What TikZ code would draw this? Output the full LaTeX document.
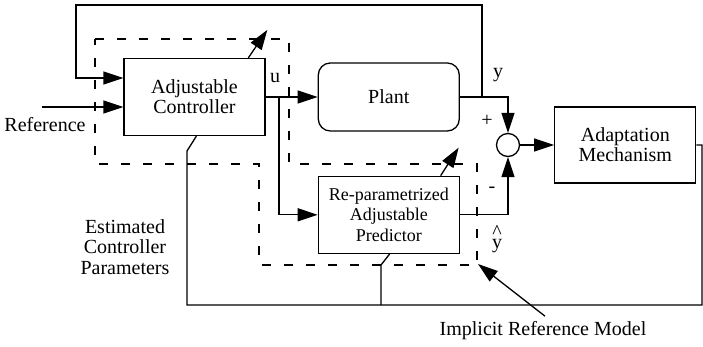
\documentclass[tikz,border=0pt]{standalone}
\usepackage{fontspec}
\setmainfont{Liberation Serif}
\usetikzlibrary{arrows.meta,positioning}

\begin{document}
\begin{tikzpicture}[x=1pt,y=-1pt,->,>={Triangle[length=20pt,width=13pt]},line width=1.3pt,
        font=\fontsize{20}{20}\selectfont,
        block/.style={draw,-,minimum width=141pt,minimum height=77pt,inner sep=0pt,align=center},
        plantbox/.style={block,minimum height=68pt,rounded corners=12pt},
        sumnode/.style={draw,-,circle,minimum size=23pt,inner sep=0pt},
        irmline/.style={-,dash pattern=on 9pt off 13pt},
        lbl/.style={inner sep=0pt,align=center}]
        \useasboundingbox (0,0) rectangle (703,347);

        \node[block] (ctrl) at (194.5,97) {Adjustable\\Controller};
        \node[plantbox] (plant) [right=52pt of ctrl] {Plant};
        \node[block,font=\fontsize{18}{20.5}\selectfont] (pred) [below=44pt of plant]
                {Re-parametrized\\Adjustable\\Predictor};
        \node[sumnode] (sum) at (508,145) {};
        \node[block,minimum height=76pt] (adapt) [right=34pt of sum] {Adaptation\\Mechanism};

        \coordinate (refin) at (42,107);
        \coordinate (utap) at (279,97);
        \coordinate (ytap) at (482,97);
        \coordinate (pbr) at (381,305);
        \coordinate (irmtip) at (478,264);

        % implicit reference model
        \draw[irmline] (95,39) -- (289,39) -- (289,164) -- (477,164) -- (477,265)
                -- (259,265) -- (259,164) -- (95,164) -- cycle;

        \path (refin) edge ([yshift=-10pt]ctrl.west)
              (ctrl) edge (plant)
              (sum) edge (adapt);
        \draw (utap) |- (pred.west);
        \draw (plant.east) -| (sum.north);
        \draw (pred.east) -| (sum.south);
        \draw (ytap) |- (76,5) |- ([yshift=19pt]ctrl.west);

        % parameters back to the adjustable blocks
        \draw[-] (adapt.east) -- (702,145) |- (187,305) -- (187,151) -- ([xshift=73pt]ctrl.south west);
        \draw[-] (pbr) -- (381,265) -- ([xshift=72pt]pred.south west);
        \draw ([xshift=125pt]ctrl.north west) -- ++(19,-28);
        \draw ([xshift=123pt]pred.north west) -- ++(18,-28);

        \node[lbl] (reflbl) at (45,125) {Reference};
        \node[lbl] (ulbl) at (275,78) {u};
        \node[lbl] (ylbl) at (498,75) {y};
        \node[lbl] (plus) at (487,121) {+};
        \node[lbl] (minus) at (492,190) {-};
        \node[lbl,anchor=base] (hat) at (497,238) {\textasciicircum};
        \node[lbl,anchor=base] (yhat) at (497,248) {y};
        \node[lbl,font=\fontsize{20}{20.5}\selectfont] (estlbl) at (125,247) {Estimated\\Controller\\Parameters};
        \node[lbl] (irmlbl) at (543,331) {Implicit Reference Model};
        \draw ([shift={(2,-5)}]irmlbl.north) -- (irmtip);
\end{tikzpicture}
\end{document}
